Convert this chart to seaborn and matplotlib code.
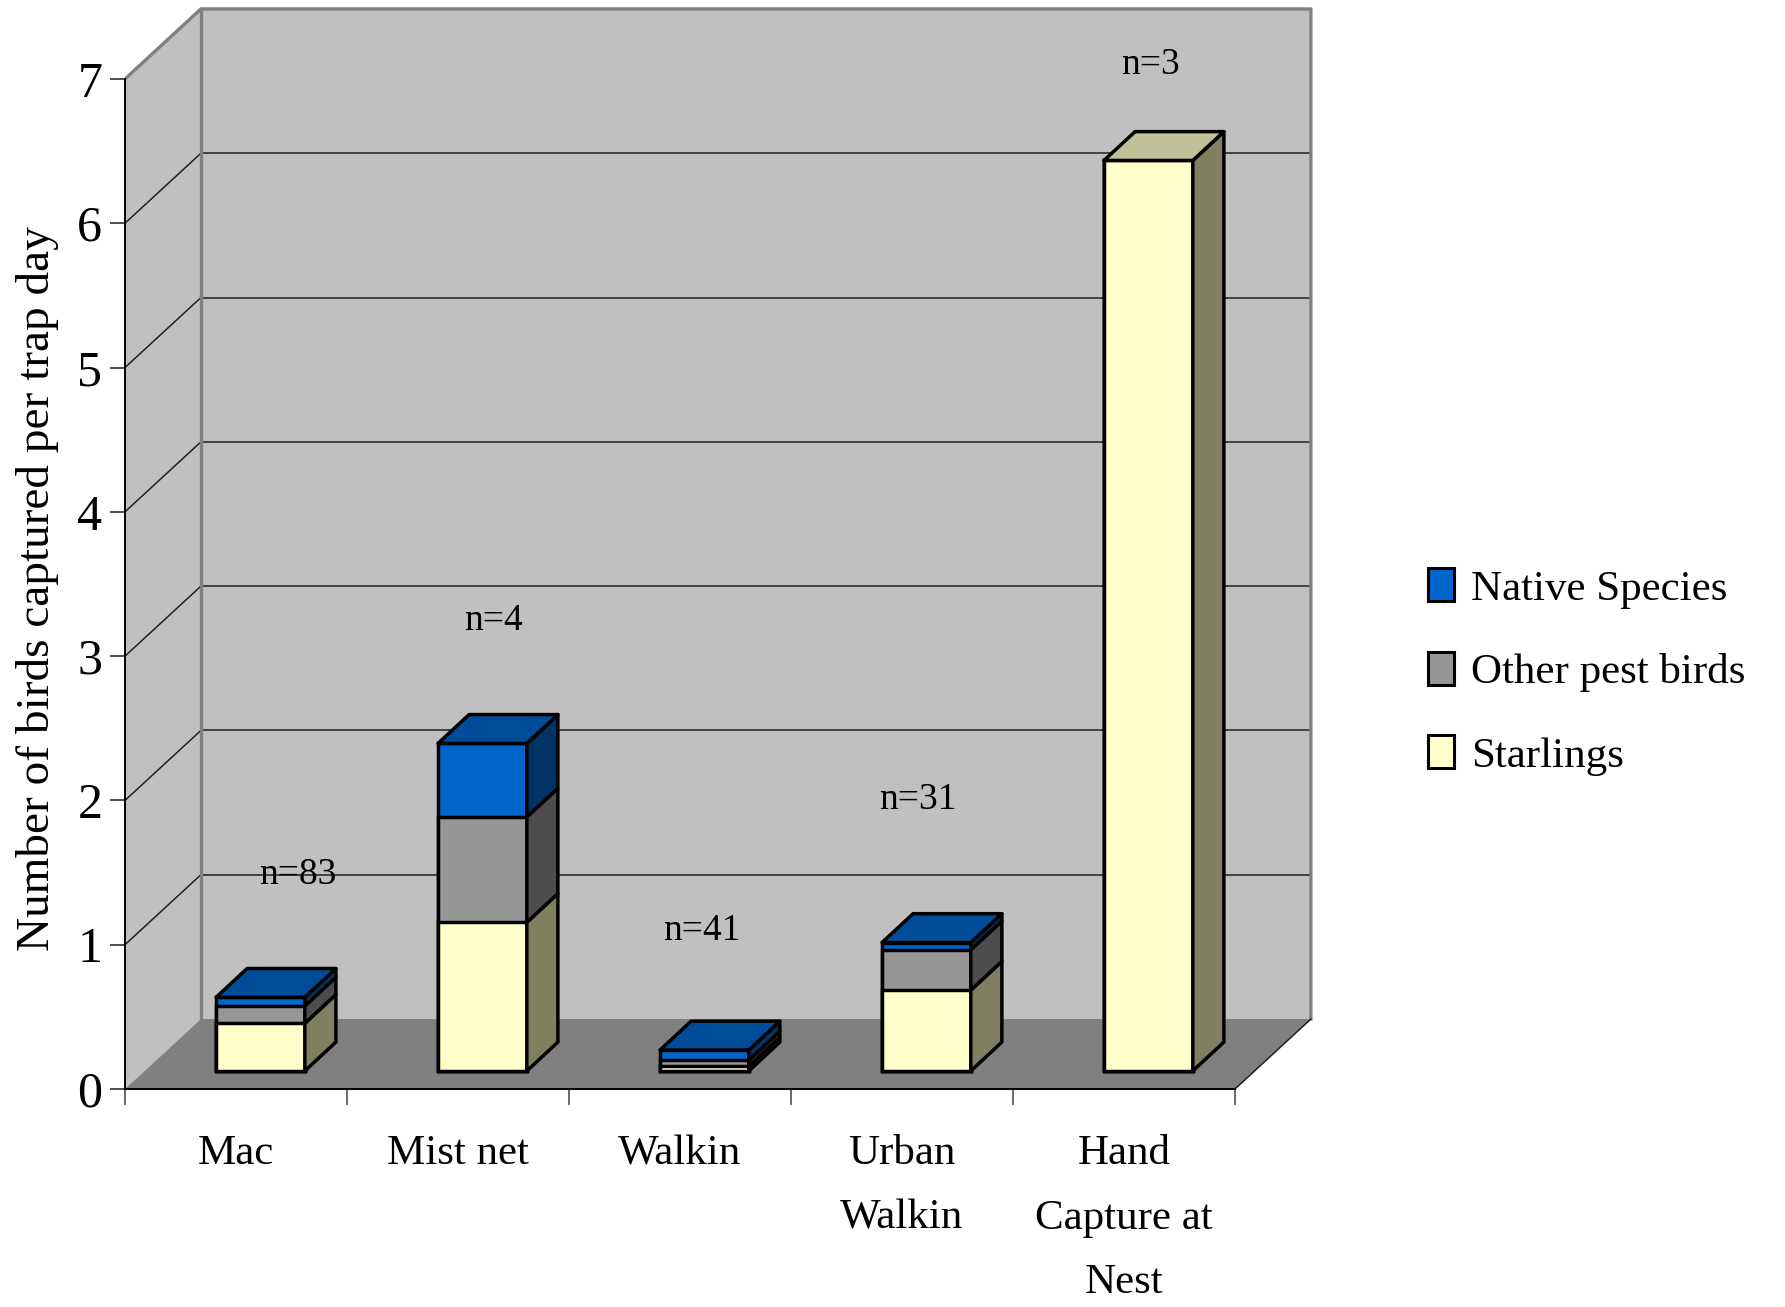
import matplotlib
matplotlib.use("Agg")
import matplotlib.pyplot as plt
from matplotlib.patches import Polygon, Patch
import seaborn as sns

# Capture rates per trap day, stacked by bird group
categories = ["Mac", "Mist net", "Walkin", "Urban\nWalkin", "Hand\nCapture at\nNest"]
starlings = [0.33, 1.03, 0.035, 0.56, 6.31]
other_pest = [0.12, 0.73, 0.04, 0.28, 0.0]
native = [0.06, 0.51, 0.07, 0.05, 0.0]
sample_sizes = [83, 4, 41, 31, 3]
y_ticks = [0, 1, 2, 3, 4, 5, 6, 7]

# Where each "n=" annotation sits (x offset from bar centre, height)
n_label_dx = [0.17, 0.05, -0.01, -0.04, 0.01]
n_label_y = [1.36, 3.12, 0.97, 1.88, 6.97]

# Face colours: front, side, top
colors = {
    "Starlings": ("#FFFFCC", "#808060", "#C0C099"),
    "Other pest birds": ("#969696", "#4D4D4D", "#707070"),
    "Native Species": ("#0066CC", "#003366", "#004C99"),
}

sns.set_style("white")
plt.rcParams["font.family"] = ["Liberation Serif", "DejaVu Serif"]
plt.rcParams["text.color"] = "black"
plt.rcParams["xtick.color"] = "black"
plt.rcParams["ytick.color"] = "black"
plt.rcParams["axes.labelcolor"] = "black"

W, H = 1785, 1307
fig = plt.figure(figsize=(W / 100, H / 100), dpi=100)

# pseudo-3D geometry (data units)
FX, FY = 0.110, 0.125      # front axis plane relative to bar front plane
WX, WY = 0.342, 0.485      # full depth of the floor
BW = 0.40                  # bar width
BDX, BDY = 0.14, 0.20      # bar depth
x0, x1 = -0.5 - FX, 4.5 - FX
ylo, yhi = -FY, 7.42
xhi = 4.8

left_px, right_px = 125, 1326
bottom_px, top_px = 1089, 0.3
ax = fig.add_axes([left_px / W, (H - bottom_px) / H,
                   (right_px - left_px) / W, (bottom_px - top_px) / H])
ax.set_facecolor("none")

# walls and floor
ymax_f = 7 - FY
back = Polygon([(x0 + WX, -FY + WY), (x1 + WX, -FY + WY), (x1 + WX, ymax_f + WY), (x0 + WX, ymax_f + WY)],
               closed=True, facecolor="#C0C0C0", edgecolor="none", zorder=0.5)
side = Polygon([(x0, -FY), (x0, ymax_f), (x0 + WX, ymax_f + WY), (x0 + WX, -FY + WY)],
               closed=True, facecolor="#C0C0C0", edgecolor="none", zorder=0.5)
floor = Polygon([(x0, -FY), (x1, -FY), (x1 + WX, -FY + WY), (x0 + WX, -FY + WY)],
                closed=True, facecolor="#808080", edgecolor="none", zorder=0.6)
for p in (back, side, floor):
    ax.add_patch(p)

for v in y_ticks[1:-1]:
    ax.plot([x0 + WX, x1 + WX], [v - FY + WY] * 2, color="#202020", lw=1.1, zorder=0.7)
    ax.plot([x0, x0 + WX], [v - FY, v - FY + WY], color="#202020", lw=1.1, zorder=0.7)

edge_kw = dict(color="#808080", lw=2.4, zorder=0.8, solid_capstyle="projecting")
ax.plot([x0, x0 + WX, x1 + WX, x1 + WX], [ymax_f, ymax_f + WY, ymax_f + WY, -FY + WY], **edge_kw)
ax.plot([x0 + WX, x0 + WX], [-FY + WY, ymax_f + WY], **edge_kw)
ax.plot([x1, x1 + WX], [-FY, -FY + WY], color="#202020", lw=1.1, zorder=0.8)

# front faces: cumulative totals drawn tallest first
level_other = [s + o for s, o in zip(starlings, other_pest)]
level_total = [s + o + n for s, o, n in zip(starlings, other_pest, native)]
for heights, name, z in [(level_total, "Native Species", 2),
                         (level_other, "Other pest birds", 2.1),
                         (starlings, "Starlings", 2.2)]:
    sns.barplot(x=categories, y=heights, color=colors[name][0], saturation=1,
                width=BW, edgecolor="black", linewidth=2.5, ax=ax, zorder=z)

# side and top faces
for i in range(len(categories)):
    xr = i + BW / 2
    lo = 0.0
    top_name = None
    for name, vals in [("Starlings", starlings), ("Other pest birds", other_pest),
                       ("Native Species", native)]:
        hi = lo + vals[i]
        if vals[i] > 0:
            ax.add_patch(Polygon([(xr, lo), (xr + BDX, lo + BDY), (xr + BDX, hi + BDY), (xr, hi)],
                                 closed=True, facecolor=colors[name][1], edgecolor="black",
                                 lw=2.5, joinstyle="round", zorder=3))
            top_name = name
        lo = hi
    ax.add_patch(Polygon([(i - BW / 2, lo), (xr, lo), (xr + BDX, lo + BDY), (i - BW / 2 + BDX, lo + BDY)],
                         closed=True, facecolor=colors[top_name][2], edgecolor="black",
                         lw=2.5, joinstyle="round", zorder=3.1))
    ax.text(i + n_label_dx[i], n_label_y[i], f"n={sample_sizes[i]}", ha="center", va="center",
            fontsize=27, zorder=5)

ax.set_xlim(x0, xhi)
ax.set_ylim(ylo, yhi)

for s in ("top", "right"):
    ax.spines[s].set_visible(False)
for s in ("left", "bottom"):
    ax.spines[s].set_color("black")
    ax.spines[s].set_linewidth(1.4)
    ax.spines[s].set_zorder(2.5)
ax.spines["left"].set_bounds(-FY, ymax_f)
ax.spines["bottom"].set_bounds(x0, x1)

ax.set_yticks([v - FY for v in y_ticks], labels=[str(v) for v in y_ticks])
ax.tick_params(axis="y", which="major", left=True, length=10.8, width=1.3, color="#404040",
               pad=5.5, labelsize=36, labelcolor="black")
ax.set_xticks([i - FX for i in range(len(categories))], labels=categories)
ax.set_xticks([i - 0.5 - FX for i in range(len(categories) + 1)], minor=True)
ax.tick_params(axis="x", which="major", bottom=False, length=0, pad=33, labelsize=31,
               labelcolor="black")
ax.tick_params(axis="x", which="minor", bottom=True, length=11.5, width=1.2, color="#505050")
for t in ax.get_xticklabels():
    t.set_linespacing(1.88)
    t.set_va("top")

ax.set_xlabel("")
ax.set_ylabel("Number of birds captured per trap day", fontsize=34, va="center", color="black")
ax.yaxis.set_label_coords(38 / W, 1 - 589 / H, transform=fig.transFigure)

handles = [Patch(facecolor=colors[n][0], edgecolor="black", linewidth=2.2)
           for n in ["Native Species", "Other pest birds", "Starlings"]]
leg = fig.legend(handles, ["Native Species", "Other pest birds", "Starlings"],
                 loc="center left", bbox_to_anchor=(1428 / W, 1 - 672 / H),
                 frameon=False, fontsize=31, handlelength=0.6, handleheight=0.8,
                 handletextpad=0.4, labelspacing=1.0, borderpad=0, borderaxespad=0)
for t in leg.get_texts():
    t.set_color("black")

fig.savefig("out.png", dpi=100)
